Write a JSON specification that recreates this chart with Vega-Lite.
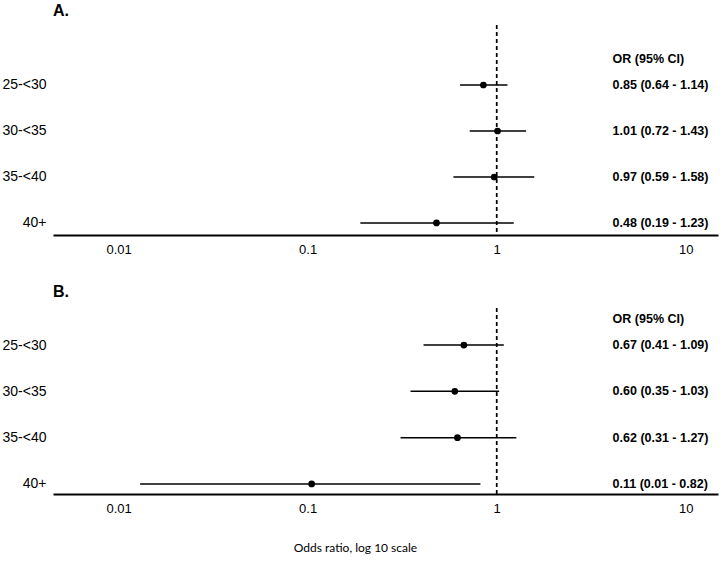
{
  "$schema": "https://vega.github.io/schema/vega-lite/v6.json",
  "background": "white",
  "padding": {"left": 2, "top": 3, "right": 2, "bottom": 5},
  "config": {
    "view": {"stroke": null},
    "font": "Liberation Sans",
    "axis": {"labelFont": "Liberation Sans"},
    "text": {"font": "Liberation Sans"},
    "title": {"fontSize": 16, "fontWeight": "bold", "anchor": "start", "frame": "group", "color": "#000", "offset": 5, "font": "Liberation Sans"}
  },
  "datasets": {
    "a": [
      {"group": "25-<30", "or": 0.85, "lo": 0.64, "hi": 1.14, "label": "0.85 (0.64 - 1.14)"},
      {"group": "30-<35", "or": 1.01, "lo": 0.72, "hi": 1.43, "label": "1.01 (0.72 - 1.43)"},
      {"group": "35-<40", "or": 0.97, "lo": 0.59, "hi": 1.58, "label": "0.97 (0.59 - 1.58)"},
      {"group": "40+", "or": 0.48, "lo": 0.19, "hi": 1.23, "label": "0.48 (0.19 - 1.23)"}
    ],
    "b": [
      {"group": "25-<30", "or": 0.67, "lo": 0.41, "hi": 1.09, "label": "0.67 (0.41 - 1.09)"},
      {"group": "30-<35", "or": 0.60, "lo": 0.35, "hi": 1.03, "label": "0.60 (0.35 - 1.03)"},
      {"group": "35-<40", "or": 0.62, "lo": 0.31, "hi": 1.27, "label": "0.62 (0.31 - 1.27)"},
      {"group": "40+", "or": 0.105, "lo": 0.013, "hi": 0.82, "label": "0.11 (0.01 - 0.82)"}
    ],
    "one": [{}]
  },
  "spacing": 28,
  "vconcat": [
    {
      "title": {"text": "A."},
      "width": 665,
      "height": 210,
      "layer": [
        {
          "data": {"name": "one"},
          "mark": {"type": "rule", "strokeDash": [4, 3], "strokeWidth": 1.7, "color": "#000"},
          "encoding": {
            "x": {"datum": 1, "type": "quantitative", "scale": {"type": "log", "domain": [0.0045, 14.8], "nice": false},
              "axis": {"values": [0.01, 0.1, 1, 10], "format": "~g", "title": null, "domain": true, "domainColor": "#000", "domainWidth": 2, "ticks": false, "grid": false, "labelFont": "Liberation Sans", "labelFontSize": 13, "labelColor": "#000", "labelPadding": 8}}
          }
        },
        {
          "data": {"name": "a"},
          "mark": {"type": "rule", "strokeWidth": 1.5, "color": "#000"},
          "encoding": {
            "x": {"field": "lo", "type": "quantitative"},
            "x2": {"field": "hi"},
            "y": {"field": "group", "type": "nominal", "sort": null,
              "scale": {"type": "point", "domain": ["25-<30", "30-<35", "35-<40", "40+"], "padding": 0.783, "align": 0.833},
              "axis": {"title": null, "domain": false, "ticks": false, "grid": false, "labelFont": "Liberation Sans", "labelFontSize": 14, "labelColor": "#000", "labelPadding": 7}}
          }
        },
        {
          "data": {"name": "a"},
          "mark": {"type": "point", "filled": true, "opacity": 1, "size": 45, "color": "#000"},
          "encoding": {
            "x": {"field": "or", "type": "quantitative"},
            "y": {"field": "group", "type": "nominal", "sort": null}
          }
        },
        {
          "data": {"name": "a"},
          "mark": {"type": "text", "align": "left", "baseline": "middle", "font": "Liberation Sans", "fontSize": 12.5, "fontWeight": "bold", "color": "#000"},
          "encoding": {
            "x": {"datum": 4.1, "type": "quantitative"},
            "y": {"field": "group", "type": "nominal", "sort": null},
            "text": {"field": "label"}
          }
        },
        {
          "data": {"name": "one"},
          "mark": {"type": "text", "align": "left", "baseline": "middle", "font": "Liberation Sans", "fontSize": 12.5, "fontWeight": "bold", "color": "#000", "dy": -26, "text": "OR (95% CI)"},
          "encoding": {
            "x": {"datum": 4.1, "type": "quantitative"},
            "y": {"datum": "25-<30", "type": "nominal"}
          }
        }
      ]
    },
    {
      "title": {"text": "B.", "offset": 7},
      "width": 665,
      "height": 186,
      "layer": [
        {
          "data": {"name": "one"},
          "mark": {"type": "rule", "strokeDash": [4, 3], "strokeWidth": 1.7, "color": "#000"},
          "encoding": {
            "x": {"datum": 1, "type": "quantitative", "scale": {"type": "log", "domain": [0.0045, 14.8], "nice": false},
              "axis": {"values": [0.01, 0.1, 1, 10], "format": "~g", "title": "Odds ratio, log 10 scale", "titleFont": "Lato", "titleFontSize": 12, "titleFontWeight": "normal", "titleColor": "#000", "titlePadding": 27, "titleX": 302, "titleAnchor": null, "domain": true, "domainColor": "#000", "domainWidth": 2, "ticks": false, "grid": false, "labelFont": "Liberation Sans", "labelFontSize": 13, "labelColor": "#000", "labelPadding": 8}}
          }
        },
        {
          "data": {"name": "b"},
          "mark": {"type": "rule", "strokeWidth": 1.5, "color": "#000"},
          "encoding": {
            "x": {"field": "lo", "type": "quantitative"},
            "x2": {"field": "hi"},
            "y": {"field": "group", "type": "nominal", "sort": null,
              "scale": {"type": "point", "domain": ["25-<30", "30-<35", "35-<40", "40+"], "padding": 0.508, "align": 0.787},
              "axis": {"title": null, "domain": false, "ticks": false, "grid": false, "labelFont": "Liberation Sans", "labelFontSize": 14, "labelColor": "#000", "labelPadding": 7}}
          }
        },
        {
          "data": {"name": "b"},
          "mark": {"type": "point", "filled": true, "opacity": 1, "size": 45, "color": "#000"},
          "encoding": {
            "x": {"field": "or", "type": "quantitative"},
            "y": {"field": "group", "type": "nominal", "sort": null}
          }
        },
        {
          "data": {"name": "b"},
          "mark": {"type": "text", "align": "left", "baseline": "middle", "font": "Liberation Sans", "fontSize": 12.5, "fontWeight": "bold", "color": "#000"},
          "encoding": {
            "x": {"datum": 4.1, "type": "quantitative"},
            "y": {"field": "group", "type": "nominal", "sort": null},
            "text": {"field": "label"}
          }
        },
        {
          "data": {"name": "one"},
          "mark": {"type": "text", "align": "left", "baseline": "middle", "font": "Liberation Sans", "fontSize": 12.5, "fontWeight": "bold", "color": "#000", "dy": -26, "text": "OR (95% CI)"},
          "encoding": {
            "x": {"datum": 4.1, "type": "quantitative"},
            "y": {"datum": "25-<30", "type": "nominal"}
          }
        }
      ]
    }
  ]
}
